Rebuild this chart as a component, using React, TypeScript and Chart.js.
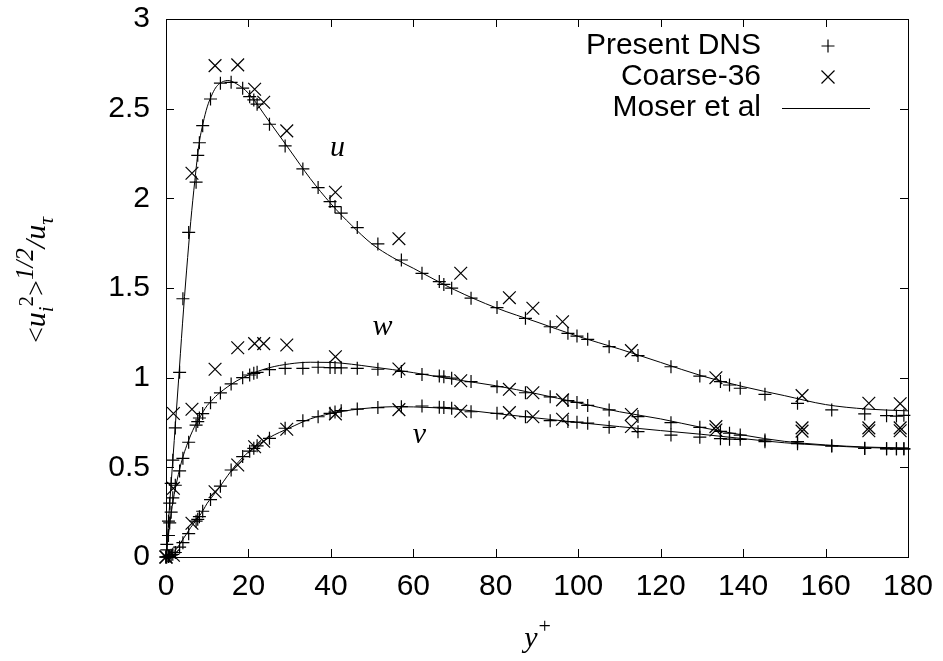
import React, { useEffect, useRef } from 'react';
import { Chart, registerables } from 'chart.js';

Chart.register(...registerables);

// ---------- data ----------
const xTicks = [0, 20, 40, 60, 80, 100, 120, 140, 160, 180];
const yTicks = [0, 0.5, 1, 1.5, 2, 2.5, 3];

// Present DNS (plus markers)
const dnsY = [0, 0.2, 0.6, 0.9, 1.25, 1.65, 2.26, 3.3, 4.1, 5.5, 7.3, 7.7, 8.1, 8.9, 10.8, 13.2, 15.8, 18.6, 20.3, 21.3, 22.1, 25.1, 28.9, 33.2, 36.9, 39.8, 41.0, 42.5, 46.4, 51.4, 57.1, 62.1, 66.3, 67.4, 69.3, 74.0, 80.3, 87.2, 93.2, 97.5, 99.7, 102.3, 107.5, 114.5, 122.5, 129.5, 134.5, 136.7, 139.3, 145.3, 153.2, 161.5, 169.5, 174.8, 177.2, 179.0];
const dnsU = [0, 0.07, 0.2, 0.3, 0.41, 0.54, 0.72, 1.03, 1.44, 1.81, 2.09, 2.24, 2.31, 2.405, 2.554, 2.642, 2.647, 2.614, 2.567, 2.549, 2.525, 2.413, 2.292, 2.164, 2.06, 1.982, 1.954, 1.917, 1.837, 1.746, 1.656, 1.582, 1.536, 1.52, 1.499, 1.443, 1.391, 1.331, 1.284, 1.247, 1.232, 1.214, 1.173, 1.123, 1.061, 1.009, 0.978, 0.959, 0.941, 0.907, 0.857, 0.82, 0.798, 0.788, 0.786, 0.79];
const dnsW = [0, 0.04, 0.12, 0.19, 0.25, 0.33, 0.4, 0.48, 0.55, 0.64, 0.735, 0.755, 0.775, 0.8, 0.86, 0.915, 0.965, 1.0, 1.015, 1.024, 1.03, 1.045, 1.052, 1.052, 1.058, 1.056, 1.056, 1.055, 1.052, 1.047, 1.035, 1.018, 1.009, 1.005, 0.997, 0.978, 0.95, 0.916, 0.893, 0.872, 0.862, 0.845, 0.82, 0.783, 0.749, 0.723, 0.701, 0.69, 0.68, 0.653, 0.643, 0.62, 0.606, 0.604, 0.603, 0.603];
const dnsV = [0, 0, 0.003, 0.005, 0.01, 0.015, 0.025, 0.055, 0.08, 0.13, 0.2, 0.21, 0.225, 0.255, 0.32, 0.395, 0.485, 0.56, 0.59, 0.606, 0.62, 0.662, 0.718, 0.76, 0.782, 0.801, 0.808, 0.816, 0.825, 0.833, 0.838, 0.842, 0.835, 0.833, 0.83, 0.81, 0.801, 0.782, 0.76, 0.755, 0.752, 0.746, 0.723, 0.699, 0.68, 0.668, 0.66, 0.657, 0.656, 0.643, 0.632, 0.619, 0.605, 0.603, 0.603, 0.603];

// Coarse-36 (x markers)
const coarseY = [0, 1.8, 6.3, 11.9, 17.4, 21.5, 23.7, 29.3, 41.1, 56.5, 71.5, 83.3, 89.0, 96.2, 112.9, 133.4, 154.3, 170.5, 178.1];
const coarseU = [0, 0.8, 2.14, 2.74, 2.744, 2.608, 2.536, 2.376, 2.034, 1.775, 1.582, 1.446, 1.387, 1.312, 1.151, 1.0, 0.9, 0.857, 0.855];
const coarseW = [0, 0.383, 0.824, 1.047, 1.167, 1.19, 1.19, 1.182, 1.117, 1.048, 0.983, 0.935, 0.916, 0.876, 0.795, 0.727, 0.72, 0.72, 0.72];
const coarseV = [0, 0.01, 0.188, 0.364, 0.513, 0.615, 0.645, 0.712, 0.798, 0.822, 0.813, 0.805, 0.782, 0.768, 0.728, 0.708, 0.702, 0.704, 0.704];

// Moser et al (lines)
const moserY = [0, 1, 2, 3, 4, 5, 6, 7, 8, 9, 10, 11, 12, 13, 15, 17, 20, 25, 30, 35, 40, 45, 50, 55, 60, 70, 80, 90, 100, 110, 120, 130, 140, 150, 160, 170, 180];
const moserU = [0, 0.33, 0.65, 0.97, 1.3, 1.6, 1.87, 2.1, 2.3, 2.42, 2.51, 2.57, 2.615, 2.64, 2.657, 2.64, 2.586, 2.43, 2.27, 2.11, 1.97, 1.85, 1.745, 1.67, 1.61, 1.49, 1.39, 1.31, 1.23, 1.16, 1.085, 1.01, 0.95, 0.9, 0.85, 0.825, 0.815];
const moserW = [0, 0.2, 0.35, 0.46, 0.55, 0.62, 0.68, 0.73, 0.77, 0.81, 0.845, 0.87, 0.895, 0.915, 0.95, 0.98, 1.015, 1.055, 1.077, 1.086, 1.085, 1.075, 1.06, 1.045, 1.028, 0.99, 0.955, 0.91, 0.86, 0.81, 0.77, 0.722, 0.68, 0.645, 0.625, 0.613, 0.608];
const moserV = [0, 0.01, 0.03, 0.06, 0.095, 0.13, 0.165, 0.195, 0.225, 0.26, 0.3, 0.33, 0.36, 0.39, 0.455, 0.515, 0.585, 0.665, 0.72, 0.77, 0.8, 0.82, 0.832, 0.838, 0.837, 0.825, 0.8, 0.775, 0.75, 0.727, 0.705, 0.684, 0.66, 0.637, 0.622, 0.61, 0.606];

const legendLabels = ['Present DNS', 'Coarse-36', 'Moser et al'];
const curveLabels = [
  { text: 'u', x: 41.6, y: 2.28 },
  { text: 'w', x: 52.5, y: 1.283 },
  { text: 'v', x: 61.5, y: 0.68 },
];

// ---------- styles ----------
const SANS = '"Liberation Sans", Arial, sans-serif';
const SERIF = '"Liberation Serif", "DejaVu Serif", serif';
const BLACK = '#000000';

type Part = { t: string; size: number; dy: number; italic: boolean };
const yLabelParts: Part[] = [
  { t: '<', size: 28, dy: 0, italic: false },
  { t: 'u', size: 30, dy: 0, italic: true },
  { t: 'i', size: 21, dy: 8, italic: true },
  { t: '2', size: 21, dy: -12, italic: false },
  { t: '>', size: 28, dy: 0, italic: false },
  { t: '1/2', size: 25, dy: -12, italic: true },
  { t: '/', size: 30, dy: 0, italic: true },
  { t: 'u', size: 30, dy: 0, italic: true },
  { t: 'τ', size: 22, dy: 8, italic: true },
];

function pts(xs: number[], ys: number[]) {
  return xs.map((x, i) => ({ x, y: ys[i] }));
}

function fontOf(p: Part) {
  return `${p.italic ? 'italic ' : ''}${p.size}px ${SERIF}`;
}

const overlayPlugin = {
  id: 'overlay',
  afterDraw(chart: any) {
    const { ctx, chartArea: a, scales } = chart;
    const xs = scales.x;
    const ys = scales.y;
    ctx.save();
    // frame
    ctx.strokeStyle = BLACK;
    ctx.lineWidth = 1;
    ctx.strokeRect(Math.round(a.left) + 0.5, Math.round(a.top) + 0.5, Math.round(a.right - a.left), Math.round(a.bottom - a.top));
    // inward ticks
    ctx.beginPath();
    const tl = 8;
    for (const v of xTicks) {
      const px = Math.round(xs.getPixelForValue(v)) + 0.5;
      ctx.moveTo(px, a.bottom);
      ctx.lineTo(px, a.bottom - tl);
      ctx.moveTo(px, a.top);
      ctx.lineTo(px, a.top + tl);
    }
    for (const v of yTicks) {
      const py = Math.round(ys.getPixelForValue(v)) + 0.5;
      ctx.moveTo(a.left, py);
      ctx.lineTo(a.left + tl, py);
      ctx.moveTo(a.right, py);
      ctx.lineTo(a.right - tl, py);
    }
    ctx.stroke();

    // legend
    ctx.fillStyle = BLACK;
    ctx.font = `30px ${SANS}`;
    ctx.textAlign = 'right';
    ctx.textBaseline = 'middle';
    const rows = [46, 77, 108];
    const mx = 828;
    legendLabels.forEach((lab, i) => {
      ctx.fillText(lab, 761, rows[i]);
    });
    ctx.lineWidth = 1.2;
    ctx.beginPath();
    // plus
    ctx.moveTo(mx - 6.5, rows[0]);
    ctx.lineTo(mx + 6.5, rows[0]);
    ctx.moveTo(mx, rows[0] - 6.5);
    ctx.lineTo(mx, rows[0] + 6.5);
    // cross
    ctx.moveTo(mx - 6.5, rows[1] - 6.5);
    ctx.lineTo(mx + 6.5, rows[1] + 6.5);
    ctx.moveTo(mx + 6.5, rows[1] - 6.5);
    ctx.lineTo(mx - 6.5, rows[1] + 6.5);
    ctx.stroke();
    ctx.lineWidth = 1;
    ctx.beginPath();
    ctx.moveTo(782, rows[2] + 0.5);
    ctx.lineTo(870, rows[2] + 0.5);
    ctx.stroke();

    // curve labels
    ctx.font = `italic 30px ${SERIF}`;
    ctx.textAlign = 'center';
    ctx.textBaseline = 'middle';
    for (const c of curveLabels) {
      ctx.fillText(c.text, xs.getPixelForValue(c.x), ys.getPixelForValue(c.y));
    }

    // x title y^+
    const xc = (a.left + a.right) / 2;
    ctx.textAlign = 'left';
    ctx.textBaseline = 'alphabetic';
    ctx.font = `italic 30px ${SERIF}`;
    const wy = ctx.measureText('y').width;
    ctx.font = `22px ${SERIF}`;
    const wp = ctx.measureText('+').width;
    const x0 = xc - (wy + wp) / 2;
    ctx.font = `italic 30px ${SERIF}`;
    ctx.fillText('y', x0, 647);
    ctx.font = `22px ${SERIF}`;
    ctx.fillText('+', x0 + wy + 1, 633);

    // y title
    ctx.save();
    ctx.translate(45, (a.top + a.bottom) / 2 - 8);
    ctx.rotate(-Math.PI / 2);
    let total = 0;
    for (const p of yLabelParts) {
      ctx.font = fontOf(p);
      total += ctx.measureText(p.t).width;
    }
    let x = -total / 2;
    for (const p of yLabelParts) {
      ctx.font = fontOf(p);
      ctx.fillText(p.t, x, p.dy);
      x += ctx.measureText(p.t).width;
    }
    ctx.restore();

    ctx.restore();
  },
};

export default function App() {
  const ref = useRef<HTMLCanvasElement | null>(null);
  useEffect(() => {
    const canvas = ref.current;
    if (!canvas) return;
    const plusDs = (ys: number[], label: string) => ({
      label,
      data: pts(dnsY, ys),
      showLine: false,
      pointStyle: 'cross',
      pointRadius: 6.5,
      pointBorderWidth: 1.2,
      pointBorderColor: BLACK,
      pointBackgroundColor: BLACK,
      borderColor: BLACK,
      clip: false,
    });
    const xDs = (ys: number[], label: string) => ({
      label,
      data: pts(coarseY, ys),
      showLine: false,
      pointStyle: 'crossRot',
      pointRadius: 9,
      pointBorderWidth: 1.2,
      pointBorderColor: BLACK,
      pointBackgroundColor: BLACK,
      borderColor: BLACK,
      clip: false,
    });
    const lineDs = (ys: number[], label: string) => ({
      label,
      data: pts(moserY, ys),
      showLine: true,
      pointRadius: 0,
      borderColor: BLACK,
      borderWidth: 1,
      cubicInterpolationMode: 'monotone',
      fill: false,
      clip: false,
    });
    const chart = new Chart(canvas, {
      type: 'scatter',
      data: {
        datasets: [
          lineDs(moserU, 'Moser et al u'),
          lineDs(moserW, 'Moser et al w'),
          lineDs(moserV, 'Moser et al v'),
          plusDs(dnsU, 'Present DNS u'),
          plusDs(dnsW, 'Present DNS w'),
          plusDs(dnsV, 'Present DNS v'),
          xDs(coarseU, 'Coarse-36 u'),
          xDs(coarseW, 'Coarse-36 w'),
          xDs(coarseV, 'Coarse-36 v'),
        ] as any,
      },
      options: {
        responsive: false,
        animation: false,
        events: [],
        layout: { padding: { left: 0, top: 19, right: 35, bottom: 0 } },
        plugins: {
          legend: { display: false },
          tooltip: { enabled: false },
          title: { display: false },
        },
        scales: {
          x: {
            type: 'linear',
            min: 0,
            max: 180,
            afterBuildTicks: (s: any) => {
              s.ticks = xTicks.map((v) => ({ value: v }));
            },
            afterFit: (s: any) => {
              s.height = 104;
              s.paddingLeft = 0;
              s.paddingRight = 0;
            },
            grid: { display: false, drawTicks: false },
            border: { display: false },
            ticks: {
              color: BLACK,
              padding: 12,
              maxRotation: 0,
              autoSkip: false,
              font: { family: SANS, size: 30 },
              callback: (v: any) => String(v),
            },
          },
          y: {
            type: 'linear',
            min: 0,
            max: 3,
            afterBuildTicks: (s: any) => {
              s.ticks = yTicks.map((v) => ({ value: v }));
            },
            afterFit: (s: any) => {
              s.width = 166;
              s.paddingTop = 0;
              s.paddingBottom = 0;
            },
            grid: { display: false, drawTicks: false },
            border: { display: false },
            ticks: {
              color: BLACK,
              padding: 16,
              autoSkip: false,
              font: { family: SANS, size: 30 },
              callback: (v: any) => String(v),
            },
          },
        },
      } as any,
      plugins: [overlayPlugin],
    });
    return () => chart.destroy();
  }, []);
  return (
    <div style={{ position: 'fixed', left: 0, top: 0, width: 943, height: 661, background: '#ffffff' }}>
      <canvas ref={ref} width={943} height={661} style={{ width: 943, height: 661, display: 'block' }} />
    </div>
  );
}
